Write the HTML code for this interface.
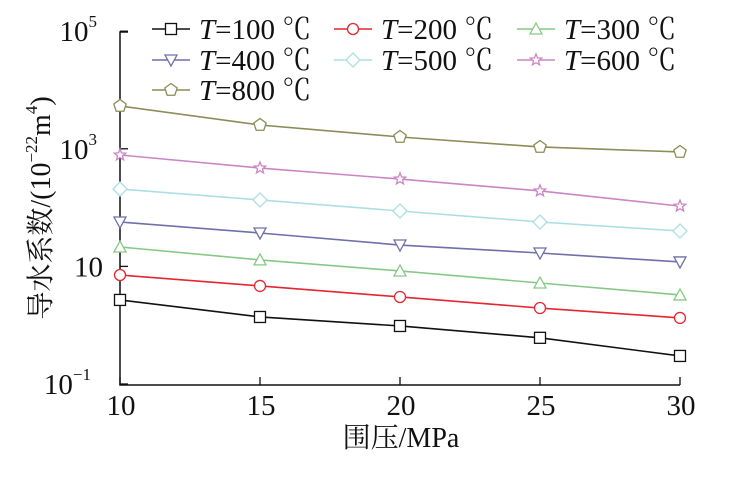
<!DOCTYPE html>
<html><head><meta charset="utf-8"><style>
body{margin:0;background:#fff}
svg text{font-family:"Liberation Serif","Noto Serif CJK SC",serif;fill:#111}
</style></head><body>
<svg id="c" width="744" height="473" xmlns="http://www.w3.org/2000/svg"></svg>
<script>
const categories=[10,15,20,25,30];
const s100=[2.69,1.38,0.97,0.61,0.30];
const s200=[7.14,4.65,3.02,1.96,1.33];
const s300=[21.4,12.9,8.36,5.22,3.27];
const s400=[56.9,37,23.1,16.9,11.9];
const s500=[207,135,87.5,56.9,40];
const s600=[785,471,306,192,106];
const s800=[5346,2541,1588,1074,883];
const xTicks=[10,15,20,25,30];
const yTickExp=[-1,1,3,5];
const seriesNames=["T=100 ℃","T=200 ℃","T=300 ℃","T=400 ℃","T=500 ℃","T=600 ℃","T=800 ℃"];
const svg=document.getElementById('c');const NS='http://www.w3.org/2000/svg';
function X(v){return 120+(v-10)*28;}
function Y(v){return 384-(Math.log10(v)+1)*58.8;}
function mk(t,a,p){const e=document.createElementNS(NS,t);for(const k in a)e.setAttribute(k,a[k]);(p||svg).appendChild(e);return e;}
const series=[
{d:s100,c:"#111",m:"sq"},{d:s200,c:"#e3262f",m:"ci"},{d:s300,c:"#86c986",m:"tu"},
{d:s400,c:"#6f6fab",m:"td"},{d:s500,c:"#acdfe3",m:"di"},{d:s600,c:"#cc85c4",m:"st"},{d:s800,c:"#8c8c58",m:"pe"}];
function marker(g,type,x,y,c){
 const a={fill:"#fff",stroke:c,"stroke-width":1.3};
 let e;
 if(type=="sq")e=mk('rect',Object.assign({x:x-5.5,y:y-5.5,width:11,height:11},a),g);
 else if(type=="ci")e=mk('circle',Object.assign({cx:x,cy:y,r:5.5},a),g);
 else{let pts;
  if(type=="tu")pts=[[0,-6],[6,5],[-6,5]];
  else if(type=="td")pts=[[-6,-5],[6,-5],[0,6]];
  else if(type=="di")pts=[[0,-7],[7,0],[0,7],[-7,0]];
  else if(type=="pe"){pts=[];for(let i=0;i<5;i++){const t=-Math.PI/2+i*2*Math.PI/5;pts.push([6.5*Math.cos(t),6.5*Math.sin(t)]);}}
  else{pts=[];for(let i=0;i<10;i++){const t=-Math.PI/2+i*Math.PI/5,r=i%2?2.6:6;pts.push([r*Math.cos(t),r*Math.sin(t)]);}}
  e=mk('polygon',Object.assign({points:pts.map(p=>(x+p[0])+','+(y+p[1])).join(' ')},a),g);}
 return e;
}
const ax=mk('path',{d:"M128 32H120V385H680",fill:"none",stroke:"#111","stroke-width":1.5});


xTicks.forEach(v=>{
 const t=mk('line',{x1:X(v),x2:X(v),y1:385,y2:377,stroke:"#111","stroke-width":1.3});
 
 
 const l=mk('text',{x:X(v)+1,y:415,"text-anchor":"middle","font-size":29});l.textContent=v;
 
 
});
yTickExp.forEach(e=>{
 const y=Y(Math.pow(10,e));
 const t=mk('line',{x1:120,x2:128,y1:y,y2:y,stroke:"#111","stroke-width":1.3});
 
 
 const l=mk('text',{x:e==1?103:(e==-1?91:97),y:y+10,"text-anchor":"end","font-size":29});
 
 
 if(e==1)l.textContent="10";
 else{l.textContent="10";const s=mk('tspan',{dy:-14,"font-size":17},l);s.textContent=e==-1?"−1":e;}
});
series.forEach((s,i)=>{
 const g=mk('g',{});
 
 
 mk('polyline',{points:s.d.map((v,j)=>X(categories[j])+','+Y(v)).join(' '),fill:"none",stroke:s.c,"stroke-width":1.6},g);
 s.d.forEach((v,j)=>{const m=marker(g,s.m,X(categories[j]),Y(v),s.c);
  
  });
});
const pos=[[152,29],[334,29],[517,29],[152,60],[334,60],[517,60],[152,90]];
series.forEach((s,i)=>{
 const g=mk('g',{});
 
 
 const [x,y]=pos[i];
 mk('line',{x1:x,x2:x+38,y1:y,y2:y,stroke:s.c,"stroke-width":1.6},g);
 marker(g,s.m,x+19,y,s.c);
 const t=mk('text',{x:x+47,y:y+10,"font-size":29},g);
 const it=mk('tspan',{"font-style":"italic"},t);it.textContent="T";
 const r=mk('tspan',{},t);r.textContent=seriesNames[i].slice(1);
});
const xt=mk('text',{x:401,y:447,"text-anchor":"middle","font-size":28});
xt.textContent="围压/MPa";


const yt=mk('text',{transform:"translate(50,208) rotate(-90)","text-anchor":"middle","font-size":28});


const a1=mk('tspan',{},yt);a1.textContent="导水系数/(10";
const a2=mk('tspan',{dy:-13,"font-size":17},yt);a2.textContent="−22";
const a3=mk('tspan',{dy:13},yt);a3.textContent="m";
const a4=mk('tspan',{dy:-13,"font-size":17},yt);a4.textContent="4";
const a5=mk('tspan',{dy:13},yt);a5.textContent=")";
</script>
</body></html>
